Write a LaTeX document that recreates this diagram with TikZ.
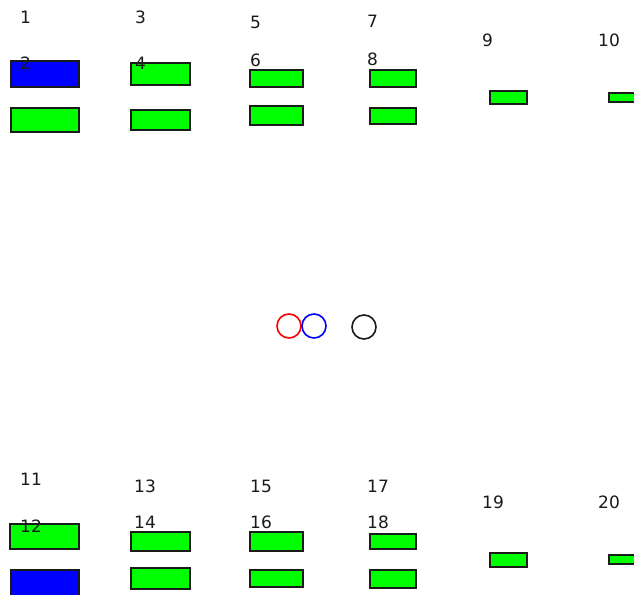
\documentclass[tikz,border=0pt]{standalone}
\usepackage{fontspec}
\setmainfont{DejaVu Sans}
\usetikzlibrary{positioning}
\definecolor{lime}{HTML}{00FF00}
\definecolor{pureblue}{HTML}{0000FF}
\definecolor{purered}{HTML}{FF0000}
\definecolor{ink}{HTML}{1A1A1A}
\tikzset{
  bar/.style={draw=ink, line width=2pt, fill=lime, inner sep=0pt},
  selbar/.style={bar, fill=pureblue},
  num/.style={anchor=west, inner sep=0pt, font=\fontsize{17pt}{20pt}\selectfont, text=ink},
  ring/.style={circle, line width=1.6pt, minimum size=24pt, inner sep=0pt},
}
\begin{document}
\begin{tikzpicture}[x=1pt, y=-1pt]
    \useasboundingbox (0,0) rectangle (634,594);
    \clip (0,0) rectangle (634,594);
    % top bars
    \node[selbar, minimum width=68pt, minimum height=25pt] (b2) at (44.5,74) {};
    \foreach \n/\x/\y/\w/\h in {2/44.5/119.5/68/24, 4/160/74/59/21, 4/160/119.5/59/20,
        6/276/78/53/17, 6/276/115/53/19, 8/392.5/78/46/17, 8/392.5/115.5/46/16}
      \node[bar, minimum width=\w pt, minimum height=\h pt] (b\n-\y) at (\x,\y) {};
    \node[bar, minimum width=37pt, minimum height=13pt] (b9) at (508,97) {};
    \node[bar, minimum width=37pt, minimum height=9pt] (b10) at (627,97) {};
    % bottom bars
    \node[selbar, minimum width=68pt, minimum height=31pt] (b12) at (44.5,585) {};
    \foreach \n/\x/\y/\w/\h in {12/44/536/69/25, 14/160/541/59/19, 14/160/578/59/21,
        16/276/541/53/19, 16/276/578/53/17, 18/392.5/541/46/15, 18/392.5/578.5/46/18}
      \node[bar, minimum width=\w pt, minimum height=\h pt] (b\n-\y) at (\x,\y) {};
    \node[bar, minimum width=37pt, minimum height=14pt] (b19) at (508,559.5) {};
    \node[bar, minimum width=37pt, minimum height=9pt] (b20) at (627,559) {};
    % labels
    \foreach \n/\x/\y in {1/20/17, 2/20/63, 3/135/17, 4/135/63, 5/250/22, 6/250/60,
        7/367/21, 8/367/59, 9/482/40, 10/598/40,
        11/20/479, 12/20/526, 13/134/486, 14/134/522, 15/250/486, 16/250/522,
        17/367/486, 18/367/522, 19/482/502, 20/598/502}
      \node[num] (n\n) at (\x,\y) {\n};
    % circles
    \node[ring, draw=purered] (red) at (289,326) {};
    \node[ring, draw=pureblue] (blue) at (314,326) {};
    \node[ring, draw=ink] (black) at (364,327) {};
\end{tikzpicture}
\end{document}
